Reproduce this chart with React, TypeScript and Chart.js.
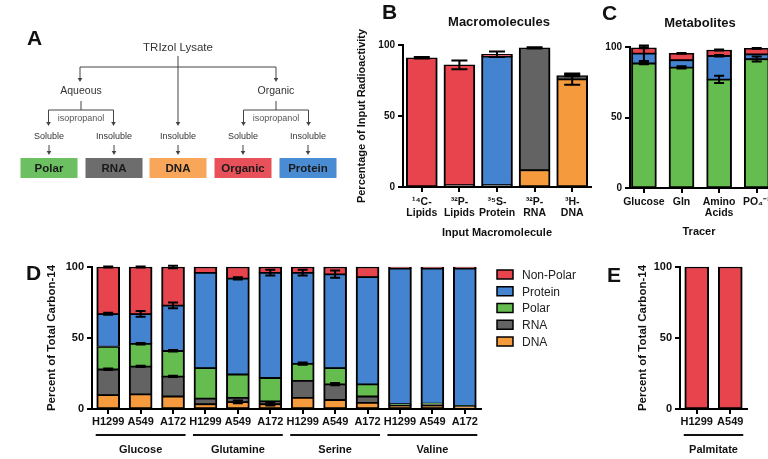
import React, { useEffect, useRef } from 'react';
import { Chart, registerables } from 'chart.js';

Chart.register(...registerables);

const FONT = '"Liberation Sans", Arial, Helvetica, sans-serif';
Chart.defaults.font.family = FONT;
Chart.defaults.color = '#111';

const RED = '#E8444E';
const BLUE = '#4383D0';
const GREEN = '#66BD4F';
const GRAY = '#636363';
const ORANGE = '#F59A3D';

// ---------- Panel B : Macromolecules ----------
const bCategories = [['¹⁴C-', 'Lipids'], ['³²P-', 'Lipids'], ['³⁵S-', 'Protein'], ['³²P-', 'RNA'], ['³H-', 'DNA']];
const bDNA = [0, 0, 0, 12, 76];
const bRNA = [0, 1.5, 1.5, 86, 2.5];
const bProtein = [0, 0, 90.5, 0, 0];
const bNonPolar = [91, 84.5, 1.5, 0, 0];
const bErrDNA = [0, 0, 0, 0, 4];
const bErrRNA = [0, 0, 0, 0.5, 0.5];
const bErrProtein = [0, 0, 0, 0, 0];
const bErrNonPolar = [0.5, 3, 2, 0, 0];

// ---------- Panel C : Metabolites ----------
const cCategories = ['Glucose', 'Gln', ['Amino', 'Acids'], 'PO₄⁻³'];
const cPolar = [88.5, 85.6, 77, 91.5];
const cProtein = [7, 5.2, 16.8, 3.5];
const cNonPolar = [4, 4.7, 4.1, 4];
const cErrPolar = [0.8, 0.8, 2.6, 1.8];
const cErrProtein = [5.5, 0, 0.5, 0];
const cErrNonPolar = [0.3, 0.3, 0.3, 0.3];

// ---------- Panel D ----------
const dCells = ['H1299', 'A549', 'A172'];
const dGroups = ['Glucose', 'Glutamine', 'Serine', 'Valine'];
const dCategories = dGroups.flatMap(() => dCells);
const dDNA = [10, 10.5, 9, 3.5, 5, 3.5, 8, 6.5, 4.5, 2.5, 2.5, 1.5];
const dRNA = [18, 19.5, 14, 4, 3, 2, 12, 11, 4.5, 0.5, 1, 0.5];
const dPolar = [16, 16, 18, 21.5, 16.5, 16.5, 12, 11.5, 8.5, 0.5, 0.5, 0.3];
const dProtein = [23, 21, 32, 67, 67.5, 74, 64, 66, 75.5, 95.5, 95, 96.7];
const dNonPolar = [33, 33, 27, 4, 8, 4, 4, 5, 7, 1, 1, 1];
const dErrDNA = [0, 0, 0, 0, 1, 1, 0, 0, 0, 0, 0, 0];
const dErrRNA = [0.5, 0.5, 0.5, 0, 0, 0, 0, 0.8, 0, 0, 0, 0];
const dErrPolar = [0, 0.5, 0.5, 0, 0, 0, 0.8, 0, 0, 0, 0, 0];
const dErrProtein = [0.7, 2, 2, 0, 0.8, 2, 2, 2.5, 0, 0, 0, 0];
const dErrNonPolar = [0.3, 0.3, 0.8, 0, 0, 0, 0, 0, 0, 0, 0, 0];

// ---------- Panel E ----------
const eCategories = ['H1299', 'A549'];
const eGroup = 'Palmitate';
const eNonPolar = [100, 100];
const eErrNonPolar = [0, 0];

// ---------- Legend ----------
const legendNames = ['Non-Polar', 'Protein', 'Polar', 'RNA', 'DNA'];
const legendColors = [RED, BLUE, GREEN, GRAY, ORANGE];

function seg(label: string, values: number[], color: string, errors: number[], thickness: number, linear = false) {
  return {
    label,
    data: linear ? values.map((v, i) => ({ x: i, y: v })) : values,
    values,
    errors,
    backgroundColor: color,
    borderColor: '#000',
    borderWidth: { top: 1.5, bottom: 1, left: 2, right: 2 },
    borderSkipped: false,
    barThickness: thickness,
    clip: false,
  } as any;
}

function errorBars(cap: number) {
  return {
    id: 'errorBars',
    afterDatasetsDraw(chart: any) {
      const ctx = chart.ctx;
      const ys = chart.scales.y;
      const dss = chart.data.datasets;
      ctx.save();
      ctx.strokeStyle = '#000';
      ctx.lineWidth = 2;
      dss.forEach((ds: any, i: number) => {
        if (!ds.errors) return;
        const meta = chart.getDatasetMeta(i);
        ds.errors.forEach((e: number, j: number) => {
          if (!e) return;
          let top = 0;
          for (let k = 0; k <= i; k++) top += dss[k].values[j];
          const x = meta.data[j].x;
          const y1 = ys.getPixelForValue(top + e);
          const y2 = ys.getPixelForValue(top - e);
          ctx.beginPath();
          ctx.moveTo(x, y1); ctx.lineTo(x, y2);
          ctx.moveTo(x - cap, y1); ctx.lineTo(x + cap, y1);
          ctx.moveTo(x - cap, y2); ctx.lineTo(x + cap, y2);
          ctx.stroke();
        });
      });
      ctx.restore();
    },
  };
}

function groupLabels(groups: { label: string; from: number; to: number }[], half: number) {
  return {
    id: 'groupLabels',
    afterDraw(chart: any) {
      const ctx = chart.ctx;
      const xs = chart.scales.x;
      const b = chart.chartArea.bottom;
      ctx.save();
      ctx.strokeStyle = '#111';
      ctx.lineWidth = 2;
      ctx.fillStyle = '#111';
      ctx.font = `bold 11px ${FONT}`;
      ctx.textAlign = 'center';
      ctx.textBaseline = 'alphabetic';
      groups.forEach((g) => {
        const x1 = xs.getPixelForValue(g.from) - half;
        const x2 = xs.getPixelForValue(g.to) + half;
        ctx.beginPath();
        ctx.moveTo(x1, b + 26);
        ctx.lineTo(x2, b + 26);
        ctx.stroke();
        ctx.fillText(g.label, (x1 + x2) / 2, b + 44);
      });
      ctx.restore();
    },
  };
}

function yAxis(size: number, width: number, title?: string, titleSize = 11) {
  return {
    stacked: true,
    min: 0,
    max: 100,
    ticks: { stepSize: 50, font: { size, weight: 'bold' }, color: '#111', padding: 3 },
    grid: { drawOnChartArea: false, drawTicks: true, tickLength: 5, color: '#000', lineWidth: 2 },
    border: { color: '#000', width: 2 },
    title: title
      ? { display: true, text: title, font: { size: titleSize, weight: 'bold' }, color: '#111', padding: { top: 4, bottom: 4 } }
      : { display: false },
    afterFit: (s: any) => { s.width = width; },
  };
}

function xCat(size: number, height: number, padding: number, title?: string) {
  return {
    stacked: true,
    offset: true,
    ticks: { font: { size, weight: 'bold', lineHeight: 1.1 }, color: '#111', padding, maxRotation: 0, autoSkip: false },
    grid: { offset: false, drawOnChartArea: false, drawTicks: true, tickLength: 5, color: '#000', lineWidth: 2 },
    border: { color: '#000', width: 2 },
    title: title
      ? { display: true, text: title, font: { size: 11, weight: 'bold' }, color: '#111', padding: { top: 4, bottom: 4 } }
      : { display: false },
    afterFit: (s: any) => { s.height = height; },
  };
}

const baseOptions = (padding: any) => ({
  responsive: false,
  animation: false,
  devicePixelRatio: 1,
  layout: { padding },
  plugins: { legend: { display: false }, tooltip: { enabled: false }, title: { display: false } },
});

function makeB(): any {
  return {
    type: 'bar',
    data: {
      labels: bCategories,
      datasets: [
        seg('DNA', bDNA, ORANGE, bErrDNA, 31),
        seg('RNA', bRNA, GRAY, bErrRNA, 31),
        seg('Protein', bProtein, BLUE, bErrProtein, 31),
        seg('Non-Polar', bNonPolar, RED, bErrNonPolar, 31),
      ],
    },
    options: {
      ...baseOptions({ left: 11, top: 45, right: 9, bottom: 1 }),
      scales: {
        x: xCat(10.5, 57, 4, 'Input Macromolecule'),
        y: yAxis(10, 52, 'Percentage of Input Radioactivity', 11),
      },
    },
    plugins: [errorBars(8)],
  };
}

function makeC(): any {
  return {
    type: 'bar',
    data: {
      datasets: [
        seg('Polar', cPolar, GREEN, cErrPolar, 25, true),
        seg('Protein', cProtein, BLUE, cErrProtein, 25, true),
        seg('Non-Polar', cNonPolar, RED, cErrNonPolar, 25, true),
      ],
    },
    options: {
      ...baseOptions({ left: 0, top: 47, right: 10, bottom: 2 }),
      scales: {
        x: {
          type: 'linear',
          stacked: true,
          offset: false,
          min: -0.37,
          max: 3.3,
          afterBuildTicks: (s: any) => { s.ticks = cCategories.map((_, i) => ({ value: i })); },
          ticks: {
            font: { size: 10.5, weight: 'bold', lineHeight: 1.1 }, color: '#111', padding: 3, maxRotation: 0, autoSkip: false,
            callback: (v: any) => (cCategories as any)[v] ?? '',
          },
          grid: { offset: false, drawOnChartArea: false, drawTicks: true, tickLength: 5, color: '#000', lineWidth: 2 },
          border: { color: '#000', width: 2 },
          title: { display: true, text: 'Tracer', font: { size: 11, weight: 'bold' }, color: '#111', padding: { top: 4, bottom: 4 } },
          afterFit: (s: any) => { s.height = 55; },
        },
        y: yAxis(10, 32),
      },
    },
    plugins: [errorBars(5)],
  };
}

function makeD(): any {
  const groups = dGroups.map((g, i) => ({ label: g, from: i * dCells.length, to: i * dCells.length + dCells.length - 1 }));
  return {
    type: 'bar',
    data: {
      labels: dCategories,
      datasets: [
        seg('DNA', dDNA, ORANGE, dErrDNA, 23),
        seg('RNA', dRNA, GRAY, dErrRNA, 23),
        seg('Polar', dPolar, GREEN, dErrPolar, 23),
        seg('Protein', dProtein, BLUE, dErrProtein, 23),
        seg('Non-Polar', dNonPolar, RED, dErrNonPolar, 23),
      ],
    },
    options: {
      ...baseOptions({ left: 11, top: 17, right: 9, bottom: 0 }),
      scales: {
        x: xCat(11, 50, 2),
        y: yAxis(11, 51, 'Percent of Total Carbon-14', 11.5),
      },
    },
    plugins: [errorBars(5), groupLabels(groups, 12.5)],
  };
}

function makeE(): any {
  return {
    type: 'bar',
    data: {
      labels: eCategories,
      datasets: [seg('Non-Polar', eNonPolar, RED, eErrNonPolar, 24)],
    },
    options: {
      ...baseOptions({ left: 32, top: 17, right: 21, bottom: 0 }),
      scales: {
        x: xCat(11, 50, 2),
        y: yAxis(11, 48, 'Percent of Total Carbon-14', 11.5),
      },
    },
    plugins: [errorBars(5), groupLabels([{ label: eGroup, from: 0, to: eCategories.length - 1 }], 13)],
  };
}

function ChartCanvas({ left, top, width, height, make }: { left: number; top: number; width: number; height: number; make: () => any }) {
  const ref = useRef<HTMLCanvasElement>(null);
  useEffect(() => {
    const chart = new Chart(ref.current as HTMLCanvasElement, make());
    return () => chart.destroy();
  }, []);
  return (
    <canvas
      ref={ref}
      width={width}
      height={height}
      style={{ position: 'absolute', left, top, width, height }}
    />
  );
}

const LINE = '#444';

function Arrow({ x, y1, y2 }: { x: number; y1: number; y2: number }) {
  return (
    <g>
      <line x1={x} y1={y1} x2={x} y2={y2 - 3} stroke={LINE} strokeWidth={1} />
      <polygon points={`${x - 2.3},${y2 - 4} ${x + 2.3},${y2 - 4} ${x},${y2}`} fill={LINE} />
    </g>
  );
}

const boxDefs = [
  { x: 49, label: 'Polar', color: '#6CC062' },
  { x: 114, label: 'RNA', color: '#6D6D6D' },
  { x: 178, label: 'DNA', color: '#F7A65A' },
  { x: 243, label: 'Organic', color: '#E8505A' },
  { x: 308, label: 'Protein', color: '#4A8CD4' },
];
const solubility = ['Soluble', 'Insoluble', 'Insoluble', 'Soluble', 'Insoluble'];

function Overlay() {
  const T = { fontFamily: FONT } as any;
  return (
    <svg width={768} height={459} style={{ position: 'absolute', left: 0, top: 0, pointerEvents: 'none' }}>
      {/* Panel letters */}
      <text x={27} y={45} fontSize={21} fontWeight="bold" fill="#111" {...T}>A</text>
      <text x={382} y={19} fontSize={21} fontWeight="bold" fill="#111" {...T}>B</text>
      <text x={602} y={20} fontSize={21} fontWeight="bold" fill="#111" {...T}>C</text>
      <text x={26} y={280} fontSize={21} fontWeight="bold" fill="#111" {...T}>D</text>
      <text x={607} y={282} fontSize={21} fontWeight="bold" fill="#111" {...T}>E</text>

      {/* Titles */}
      <text x={499} y={26} fontSize={13} fontWeight="bold" textAnchor="middle" fill="#111" {...T}>Macromolecules</text>
      <text x={700} y={27} fontSize={13} fontWeight="bold" textAnchor="middle" fill="#111" {...T}>Metabolites</text>

      {/* Panel A diagram */}
      <text x={178} y={51} fontSize={11.5} textAnchor="middle" fill="#333" {...T}>TRIzol Lysate</text>
      <line x1={80} y1={67} x2={276} y2={67} stroke={LINE} strokeWidth={1} />
      <Arrow x={178} y1={56} y2={126} />
      <Arrow x={80} y1={67} y2={82} />
      <Arrow x={276} y1={67} y2={82} />
      <text x={81} y={94} fontSize={10.5} textAnchor="middle" fill="#333" {...T}>Aqueous</text>
      <text x={276} y={94} fontSize={10.5} textAnchor="middle" fill="#333" {...T}>Organic</text>
      {[81, 276].map((cx) => (
        <g key={cx}>
          <line x1={cx} y1={101} x2={cx} y2={110} stroke={LINE} strokeWidth={1} />
          <line x1={cx - 32.5} y1={110} x2={cx + 32.5} y2={110} stroke={LINE} strokeWidth={1} />
          <Arrow x={cx - 32.5} y1={110} y2={126} />
          <Arrow x={cx + 32.5} y1={110} y2={126} />
          <text x={cx} y={121} fontSize={9} textAnchor="middle" fill="#555" {...T}>isopropanol</text>
        </g>
      ))}
      {boxDefs.map((b, i) => (
        <g key={b.label}>
          <text x={b.x} y={139} fontSize={9} textAnchor="middle" fill="#333" {...T}>{solubility[i]}</text>
          <Arrow x={b.x} y1={145} y2={155} />
          <rect x={b.x - 28.5} y={158} width={57} height={20} fill={b.color} />
          <text x={b.x} y={172} fontSize={11.5} fontWeight="bold" textAnchor="middle" fill="#1a1a1a" {...T}>{b.label}</text>
        </g>
      ))}

      {/* Legend for D */}
      {legendNames.map((n, i) => {
        const cy = 274.5 + i * 16.75;
        return (
          <g key={n}>
            <rect x={497} y={cy - 4.5} width={16} height={9} fill={legendColors[i]} stroke="#000" strokeWidth={1.5} />
            <text x={522} y={cy + 4.3} fontSize={12} fill="#222" {...T}>{n}</text>
          </g>
        );
      })}
    </svg>
  );
}

export default function App() {
  return (
    <div style={{ position: 'fixed', left: 0, top: 0, width: 768, height: 459, overflow: 'hidden', background: '#fff' }}>
      <ChartCanvas left={340} top={0} width={260} height={245} make={makeB} />
      <ChartCanvas left={598} top={0} width={180} height={245} make={makeC} />
      <ChartCanvas left={30} top={250} width={460} height={209} make={makeD} />
      <ChartCanvas left={600} top={250} width={168} height={209} make={makeE} />
      <Overlay />
    </div>
  );
}
